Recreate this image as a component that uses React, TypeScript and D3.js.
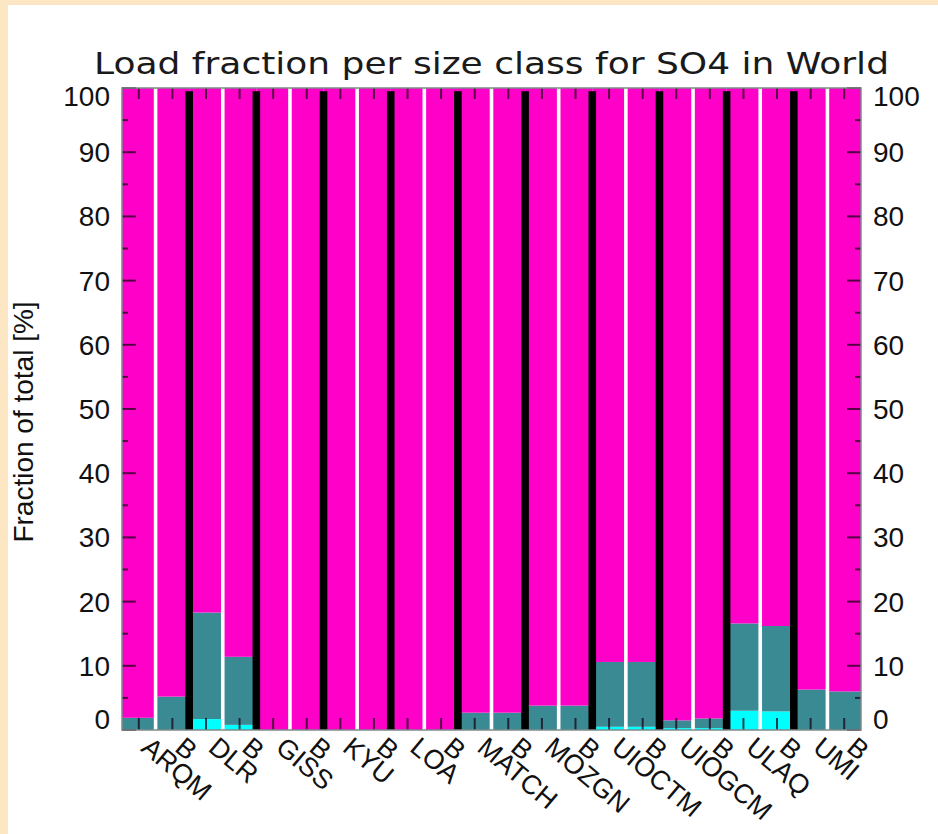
import React from "react";
import * as d3 from "d3";

// Models, each shown as its own run and the "B" run
const models = ["ARQM", "DLR", "GISS", "KYU", "LOA", "MATCH", "MOZGN", "UIOCTM", "UIOGCM", "ULAQ", "UMI"];
const runs = ["A", "B"];

// Share of the load [%] in the finest size class
const finestModel = [0, 1.7, 0, 0, 0, 0, 0, 0.5, 0.3, 3.0, 0];
const finestB = [0, 0.8, 0, 0, 0, 0, 0, 0.5, 0.3, 2.9, 0];
// Share of the load [%] in the second size class
const secondModel = [1.9, 16.6, 0, 0, 0, 2.7, 3.8, 10.1, 1.2, 13.6, 6.3];
const secondB = [5.2, 10.6, 0, 0, 0, 2.7, 3.8, 10.1, 1.5, 13.3, 6.0];

const yTicks = [0, 10, 20, 30, 40, 50, 60, 70, 80, 90, 100];
const yMinorTicks = [5, 15, 25, 35, 45, 55, 65, 75, 85, 95];

const W = 938;
const H = 834;
const PLOT = { left: 122, right: 861, top: 88, bottom: 730 };

const COLORS = { finest: "#00ffff", second: "#3a8a94", coarse: "#ff00c8" };
const FONT = "'Liberation Sans', Arial, Helvetica, sans-serif";

type Row = { model: string; run: string; finest: number; second: number; coarse: number };

const rows: Row[] = [];
models.forEach((m, i) => {
  runs.forEach((r) => {
    const f = r === "A" ? finestModel[i] : finestB[i];
    const s = r === "A" ? secondModel[i] : secondB[i];
    rows.push({ model: m, run: r, finest: f, second: s, coarse: 100 - f - s });
  });
});

export default function App() {
  const x = d3.scaleBand<string>().domain(models).range([PLOT.left, PLOT.right]).padding(0);
  const xi = d3.scaleBand<string>().domain(runs).range([0, x.bandwidth()]).padding(0);
  const y = d3.scaleLinear().domain([0, 100]).range([PLOT.bottom, PLOT.top]);

  const keys = ["finest", "second", "coarse"];
  const series = d3.stack<Row>().keys(keys)(rows);

  const tickXs: { x: number; label: string }[] = [];
  models.forEach((m) => {
    runs.forEach((r) => {
      tickXs.push({
        x: (x(m) as number) + (xi(r) as number) + xi.bandwidth() / 2,
        label: r === "A" ? m : "B",
      });
    });
  });

  const labelAngle = 40;

  return (
    <svg
      width={W}
      height={H}
      style={{ position: "absolute", left: 0, top: 0 }}
      xmlns="http://www.w3.org/2000/svg"
    >
      <rect x={0} y={0} width={W} height={H} fill="#fde6c4" />
      <rect x={8} y={5} width={W - 8} height={H - 5} fill="#ffffff" />

      {/* title */}
      <text
        x={(PLOT.left + PLOT.right) / 2}
        y={74}
        textAnchor="middle"
        fontFamily="'DejaVu Sans', sans-serif"
        fontSize={31}
        textLength={795}
        lengthAdjust="spacingAndGlyphs"
        fill="#1a1a1a"
      >
        Load fraction per size class for SO4 in World
      </text>

      {/* stacked bars */}
      {series.map((s) => (
        <g key={s.key} fill={COLORS[s.key as keyof typeof COLORS]}>
          {s.map((d, i) => {
            const row = d.data;
            const x0 = (x(row.model) as number) + (xi(row.run) as number);
            const h = y(d[0]) - y(d[1]);
            if (h <= 0) return null;
            return <rect key={i} x={x0} y={y(d[1])} width={xi.bandwidth()} height={h} />;
          })}
        </g>
      ))}

      {/* white line between the two runs of a model */}
      {models.map((m) => (
        <rect
          key={"w" + m}
          x={(x(m) as number) + x.bandwidth() / 2 - 1.8}
          y={y(100)}
          width={3.6}
          height={y(0) - y(100)}
          fill="#ffffff"
        />
      ))}

      {/* black separators between models */}
      {models.slice(1).map((m) => (
        <rect
          key={"k" + m}
          x={(x(m) as number) - 3.8}
          y={y(99.5)}
          width={7.6}
          height={y(0) - y(99.5)}
          fill="#000000"
        />
      ))}

      {/* x ticks, bottom and top */}
      <g stroke="#1a0018" strokeOpacity={0.75} strokeWidth={2}>
        {tickXs.map((t, i) => (
          <g key={"xt" + i}>
            <line x1={t.x} x2={t.x} y1={PLOT.bottom} y2={PLOT.bottom - 12} />
            <line x1={t.x} x2={t.x} y1={PLOT.top} y2={PLOT.top + 11} />
          </g>
        ))}
      </g>

      {/* y ticks, left and right */}
      <g stroke="#1a0018" strokeOpacity={0.75} strokeWidth={2}>
        {yTicks.map((v) => (
          <g key={"yt" + v}>
            <line x1={PLOT.left} x2={PLOT.left + 14} y1={y(v)} y2={y(v)} />
            <line x1={PLOT.right} x2={PLOT.right - 14} y1={y(v)} y2={y(v)} />
          </g>
        ))}
        {yMinorTicks.map((v) => (
          <g key={"ym" + v}>
            <line x1={PLOT.left} x2={PLOT.left + 6} y1={y(v)} y2={y(v)} />
            <line x1={PLOT.right} x2={PLOT.right - 6} y1={y(v)} y2={y(v)} />
          </g>
        ))}
      </g>

      {/* frame */}
      <rect
        x={PLOT.left}
        y={PLOT.top}
        width={PLOT.right - PLOT.left}
        height={PLOT.bottom - PLOT.top}
        fill="none"
        stroke="#7f8a8a"
        strokeWidth={1.5}
      />

      {/* y tick labels */}
      <g fontFamily={FONT} fontSize={28} fill="#111">
        {yTicks.map((v) => {
          const shift = v === 0 ? -11 : v === 100 ? 8 : 0;
          return (
            <g key={"yl" + v}>
              <text x={110} y={y(v) + shift} dy="0.36em" textAnchor="end">
                {v}
              </text>
              <text x={873} y={y(v) + shift} dy="0.36em" textAnchor="start">
                {v}
              </text>
            </g>
          );
        })}
      </g>

      {/* y axis title */}
      <text
        transform={`translate(33, ${(PLOT.top + PLOT.bottom) / 2 + 13}) rotate(-90)`}
        textAnchor="middle"
        fontFamily={FONT}
        fontSize={28}
        fill="#111"
      >
        Fraction of total [%]
      </text>

      {/* rotated x labels */}
      <g fontFamily={FONT} fontSize={27} fill="#111">
        {tickXs.map((t, i) => (
          <text key={"xl" + i} transform={`translate(${t.x + 1}, 750) rotate(${labelAngle})`}>
            {t.label}
          </text>
        ))}
      </g>
    </svg>
  );
}
